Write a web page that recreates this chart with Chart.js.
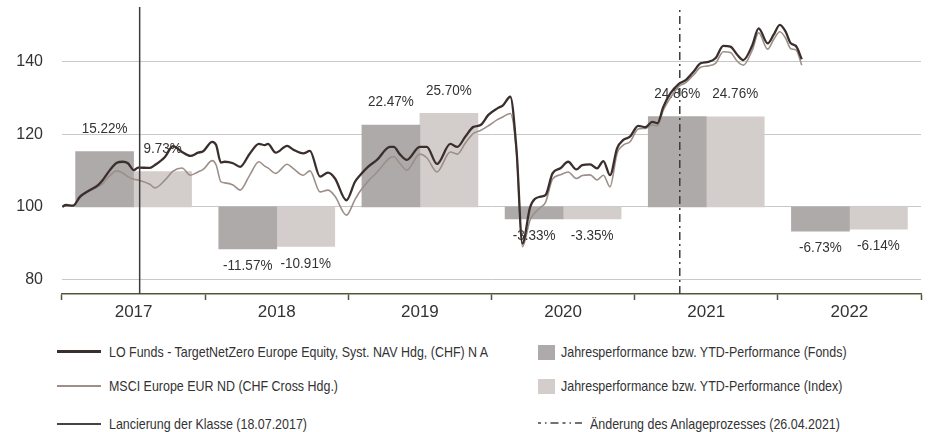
<!DOCTYPE html>
<html lang="de">
<head>
<meta charset="utf-8">
<script src="https://cdn.jsdelivr.net/npm/chart.js@4.4.1/dist/chart.umd.min.js"></script>
<style>
  body { margin: 0; background: #fff; font-family: 'Liberation Sans', Arial, sans-serif; color: #333; }
  #wrap { position: relative; width: 928px; height: 432px; }
  #chartBox { position: absolute; left: 0; top: 0; width: 928px; height: 330px; }
  .lg { position: absolute; font-size: 15px; line-height: 18px; white-space: nowrap; transform: scaleX(0.83); transform-origin: left center; }
  .sample { position: absolute; }
</style>
</head>
<body>
<div id="wrap">
  <div id="chartBox"><canvas id="perfChart"></canvas></div>

  <div class="sample" style="left:57px;top:350px;width:44px;height:3px;background:#3a2f2c"></div>
  <div class="lg" style="left:109px;top:343px">LO Funds - TargetNetZero Europe Equity, Syst. NAV Hdg, (CHF) N A</div>
  <div class="sample" style="left:57px;top:385px;width:44px;height:2px;background:#9c8f88"></div>
  <div class="lg" style="left:109px;top:377px">MSCI Europe EUR ND (CHF Cross Hdg.)</div>
  <div class="sample" style="left:57px;top:423px;width:44px;height:1.5px;background:#444"></div>
  <div class="lg" style="left:109px;top:415px">Lancierung der Klasse (18.07.2017)</div>

  <div class="sample" style="left:538px;top:345px;width:17px;height:15px;background:#aeaaa9"></div>
  <div class="lg" style="left:561px;top:343px">Jahresperformance bzw. YTD-Performance (Fonds)</div>
  <div class="sample" style="left:538px;top:379px;width:17px;height:15px;background:#d3cecb"></div>
  <div class="lg" style="left:561px;top:377px">Jahresperformance bzw. YTD-Performance (Index)</div>
  <svg class="sample" style="left:538px;top:420px" width="44" height="6"><line x1="0" y1="3" x2="44" y2="3" stroke="#444" stroke-width="1.5" stroke-dasharray="3,4,1.5,4,8,4"/></svg>
  <div class="lg" style="left:590px;top:415px">Änderung des Anlageprozesses (26.04.2021)</div>
</div>

<script>
// Jahresbalken
const years = ['2017', '2018', '2019', '2020', '2021', '2022'];
const fundPerf = [15.22, -11.57, 22.47, -3.33, 24.86, -6.73];
const indexPerf = [9.73, -10.91, 25.70, -3.35, 24.76, -6.14];

// Indexierte Entwicklung (Start = 100)
const lineDates = [
  '2017-01-02','2017-01-11','2017-01-29','2017-02-16','2017-03-08','2017-04-03','2017-04-15','2017-05-03','2017-05-21','2017-06-05','2017-06-18','2017-07-03','2017-07-14','2017-08-13','2017-08-26','2017-09-21','2017-10-11','2017-11-03','2017-11-24','2017-12-14','2017-12-27',
  '2018-01-19','2018-01-29','2018-02-10','2018-02-20','2018-03-13','2018-03-31','2018-04-25','2018-05-18','2018-06-02','2018-06-10','2018-06-30','2018-07-29','2018-08-13','2018-09-08','2018-09-25','2018-10-21','2018-11-10','2018-11-28','2018-12-27',
  '2019-01-18','2019-01-31','2019-02-20','2019-03-15','2019-04-17','2019-04-27','2019-05-12','2019-05-30','2019-07-02','2019-07-20','2019-08-15','2019-09-18','2019-10-06','2019-10-26','2019-11-16','2019-12-04','2019-12-24',
  '2020-01-16','2020-01-31','2020-02-18','2020-03-05','2020-03-20','2020-04-09','2020-05-05','2020-05-18','2020-06-05','2020-06-25','2020-07-15','2020-08-05','2020-08-20','2020-09-09','2020-09-27','2020-10-13','2020-10-30','2020-11-17','2020-12-03','2020-12-20',
  '2021-01-10','2021-01-28','2021-02-15','2021-02-28','2021-03-15','2021-04-02','2021-04-23','2021-05-11','2021-05-31','2021-06-18','2021-07-08','2021-07-26','2021-08-15','2021-09-02','2021-09-20','2021-10-05','2021-10-28','2021-11-13','2021-12-06','2021-12-21',
  '2022-01-06','2022-01-21','2022-02-03','2022-02-16','2022-03-03'
];
const fundValues = [
  100, 100.5, 100.3, 102.8, 104.3, 106, 107.4, 110.1, 112.1, 112.4, 112, 110.1, 110.8, 110.7, 111.5, 113.8, 116.7, 115.1, 114, 114.9, 115.3,
  117.9, 117, 112.2, 112.4, 112, 111, 114.7, 117.3, 117, 117.3, 114.9, 116.8, 115.8, 114.7, 115.4, 108.3, 109.4, 107.8, 101.8,
  106.9, 108.7, 111, 112.9, 116.5, 116.5, 114.5, 112.9, 116.5, 116.5, 111.8, 117.3, 116.5, 119.3, 122, 122.5, 125.3,
  127.1, 128, 130.3, 115.6, 89.9, 100, 102.8, 103.2, 109.2, 110.6, 112.4, 110.3, 111.5, 111.7, 110.6, 112.6, 108.7, 116.1, 118.4, 119.3,
  122.3, 121.9, 123.4, 123, 127.5, 131.2, 133.8, 134.9, 137.2, 139.5, 139.9, 140.9, 144.3, 144.1, 141.8, 140.4, 144.5, 149.1, 145, 147.3,
  150.1, 148.2, 145, 144.3, 140.6
];
const indexValues = [
  100, 100.4, 100.2, 102.5, 104.1, 105.5, 106.4, 108.6, 109.9, 109.3, 108.3, 107.6, 107.4, 106.2, 105.2, 107.4, 109.8, 110.7, 108.7, 109.6, 110.3,
  112.7, 111.5, 106.9, 106.6, 106, 104.6, 108.8, 112.4, 111.2, 110.7, 109.2, 111.7, 110.6, 108.7, 109.9, 104.1, 104.6, 102.9, 97.7,
  102, 104.3, 107, 109.5, 113.5, 113.8, 112, 110.1, 114.5, 113.5, 109.6, 115.1, 114.5, 117.5, 120.2, 121, 122.3,
  124, 124.8, 125.7, 115, 89, 96.5, 99.8, 101.2, 107.6, 108.8, 109.6, 107.8, 108.6, 108.8, 107.4, 108.7, 105.5, 114.7, 117, 117.9,
  121.4, 121.6, 122.5, 122.3, 126.6, 130, 133.1, 134.2, 136.3, 138.4, 138.8, 139.5, 142.7, 142.5, 140, 139, 143.2, 147.9, 143.4, 146,
  148.2, 146.4, 143.5, 143.2, 139
];

const launchDate = '2017-07-18';
const processChangeDate = '2021-04-26';
const yTicks = [80, 100, 120, 140];
const yMin = 76;
const yMax = 155;

const FONT = "'Liberation Sans', Arial, sans-serif";

// Datum -> Dezimaljahr fuer die lineare x-Achse
function toYear(s) {
  const d = new Date(s + 'T00:00:00Z');
  const y = d.getUTCFullYear();
  const start = Date.UTC(y, 0, 1), end = Date.UTC(y + 1, 0, 1);
  return y + (d.getTime() - start) / (end - start);
}

function toPoints(values) {
  return values.map((v, i) => ({ x: toYear(lineDates[i]), y: v }));
}

function verticalLine(date) {
  const x = toYear(date);
  return [{ x: x, y: yMin }, { x: x, y: yMax }];
}

// Prozentwerte ueber/unter den Balken
const barLabels = {
  id: 'barLabels',
  afterDatasetDraw(chart, args) {
    const ds = chart.data.datasets[args.index];
    if (!ds.perf) return;
    const ctx = chart.ctx;
    args.meta.data.forEach((bar, i) => {
      const v = ds.perf[i];
      const top = Math.min(bar.y, bar.base);
      const bottom = Math.max(bar.y, bar.base);
      const y = v >= 0 ? top - 23 : bottom + 17;
      ctx.save();
      ctx.font = '15px ' + FONT;
      ctx.fillStyle = '#333';
      ctx.textAlign = 'center';
      ctx.textBaseline = 'middle';
      ctx.translate(bar.x, y);
      ctx.scale(0.9, 1);
      ctx.fillText(v.toFixed(2) + '%', 0, 0);
      ctx.restore();
    });
  }
};

document.addEventListener('DOMContentLoaded', function() {
  const ctx = document.getElementById('perfChart').getContext('2d');
  Chart.defaults.font.family = FONT;
  Chart.defaults.color = '#333';

  new Chart(ctx, {
    type: 'bar',
    data: {
      labels: years,
      datasets: [
        {
          type: 'line',
          label: 'Änderung des Anlageprozesses',
          data: verticalLine(processChangeDate),
          xAxisID: 'xLin',
          borderColor: '#3d3d3d',
          borderWidth: 1.5,
          borderDash: [8, 4, 2, 4],
          pointRadius: 0,
          order: 0
        },
        {
          type: 'line',
          label: 'Lancierung der Klasse',
          data: verticalLine(launchDate),
          xAxisID: 'xLin',
          borderColor: '#3d3d3d',
          borderWidth: 1.5,
          pointRadius: 0,
          order: 0
        },
        {
          type: 'line',
          label: 'LO Funds - TargetNetZero Europe Equity, Syst. NAV Hdg, (CHF) N A',
          data: toPoints(fundValues),
          xAxisID: 'xLin',
          borderColor: '#3a2f2c',
          borderWidth: 2.3,
          pointRadius: 0,
          cubicInterpolationMode: 'monotone',
          order: 1
        },
        {
          type: 'line',
          label: 'MSCI Europe EUR ND (CHF Cross Hdg.)',
          data: toPoints(indexValues),
          xAxisID: 'xLin',
          borderColor: '#9c8f88',
          borderWidth: 1.6,
          pointRadius: 0,
          cubicInterpolationMode: 'monotone',
          order: 2
        },
        {
          label: 'Jahresperformance bzw. YTD-Performance (Fonds)',
          data: fundPerf.map(v => [100, 100 + v]),
          perf: fundPerf,
          xAxisID: 'xCat',
          backgroundColor: '#aeaaa9',
          barThickness: 58,
          order: 3
        },
        {
          label: 'Jahresperformance bzw. YTD-Performance (Index)',
          data: indexPerf.map(v => [100, 100 + v]),
          perf: indexPerf,
          xAxisID: 'xCat',
          backgroundColor: '#d3cecb',
          barThickness: 58,
          order: 3
        }
      ]
    },
    options: {
      responsive: true,
      maintainAspectRatio: false,
      animation: false,
      layout: { padding: { left: 0, right: 7, top: 7, bottom: 0 } },
      plugins: {
        legend: { display: false },
        tooltip: { enabled: false }
      },
      scales: {
        xCat: {
          type: 'category',
          position: 'bottom',
          offset: true,
          afterFit: function(scale) {
            scale.height = 36;
            scale.paddingLeft = 0;
            scale.paddingRight = 0;
          },
          border: { display: true, color: '#55553c', width: 1.5 },
          grid: {
            offset: true,
            drawOnChartArea: false,
            drawTicks: true,
            tickLength: 6,
            tickColor: '#55553c',
            tickWidth: 1.5
          },
          ticks: { font: { size: 17 }, color: '#333', padding: 2, maxRotation: 0 }
        },
        xLin: {
          type: 'linear',
          display: false,
          offset: false,
          grid: { offset: false },
          min: 2017,
          max: 2023
        },
        y: {
          min: yMin,
          max: yMax,
          afterFit: function(scale) {
            scale.width = 62;
            scale.paddingTop = 0;
            scale.paddingBottom = 0;
          },
          afterBuildTicks: function(axis) {
            axis.ticks = yTicks.map(v => ({ value: v }));
          },
          border: { display: false },
          grid: { color: '#c8c8c8', lineWidth: 1, drawTicks: false },
          ticks: { font: { size: 16 }, color: '#333', padding: 19 }
        }
      }
    },
    plugins: [barLabels]
  });
});
</script>
</body>
</html>
